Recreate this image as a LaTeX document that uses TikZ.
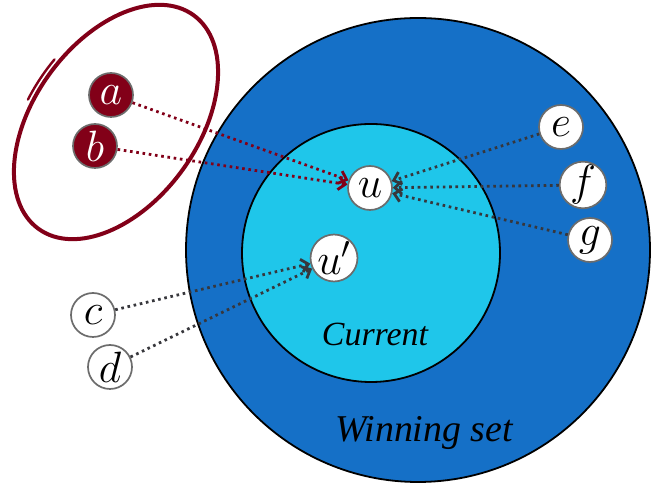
\RequirePackage{fix-cm}
\documentclass[tikz,border=0pt]{standalone}
\usepackage{fontspec}
\setmainfont{Liberation Serif}
\usetikzlibrary{arrows.meta}
\definecolor{winblue}{RGB}{21,112,199}
\definecolor{curcyan}{RGB}{31,198,234}
\definecolor{darkred}{RGB}{130,0,24}
\definecolor{edgegray}{RGB}{55,55,60}

\begin{document}
\begin{tikzpicture}[x=1bp, y=1bp,
  >={Straight Barb[length=7bp,width=13bp,line width=2.8bp]},
  vert/.style={circle, draw=gray!85!black, line width=1.7bp, fill=white, minimum size=44bp,
    inner sep=0pt, font=\fontsize{44}{44}\selectfont},
  redvert/.style={vert, fill=darkred, text=white},
  link/.style={->, line width=2.8bp, dash pattern=on 2.6bp off 3.7bp, edgegray},
  redlink/.style={link, darkred},
  setlabel/.style={anchor=base, font=\itshape\fontsize{#1}{#1}\selectfont}]
  \useasboundingbox (0,0) rectangle (665,489);
  % the two sets
  \draw[fill=winblue, line width=1.8bp] (418,239) circle (232);
  \draw[fill=curcyan, line width=1.8bp] (371,236) circle (129);
  \node[setlabel=38] (win) at (424,47) {Winning set};
  \node[setlabel=34] (cur) at (375,143) {Current};
  % hand drawn loop round a and b
  \begin{scope}[shift={(116,367)}, rotate=54, darkred]
    \draw[line width=4bp] (0,0) ellipse [x radius=132, y radius=82];
    \draw[line width=2.4bp, line cap=round] (104:139 and 87) arc [start angle=104, end angle=84, x radius=139, y radius=87];
  \end{scope}
  % vertices
  \node[redvert] (a) at (111,394) {$a$};
  \node[redvert] (b) at (95,343) {$b$};
  \node[vert] (u) at (370,301) {$u$};
  \node[vert] (u2) at (334,231) {$u'$};
  \node[vert] (c) at (93,174) {$c$};
  \node[vert] (d) at (110,122) {$d$};
  \node[vert] (e) at (561,362) {$e$};
  \node[vert] (f) at (583,304) {$f$};
  \node[vert] (g) at (590,249) {$g$};
  % moves
  \draw[redlink] (a) -- (u);
  \draw[redlink] (b) -- (u);
  \foreach \v in {e,f,g}
    \draw[link] (\v) -- (u);
  \draw[link] (c) -- (u2);
  \draw[link] (d) -- (u2);
\end{tikzpicture}
\end{document}
